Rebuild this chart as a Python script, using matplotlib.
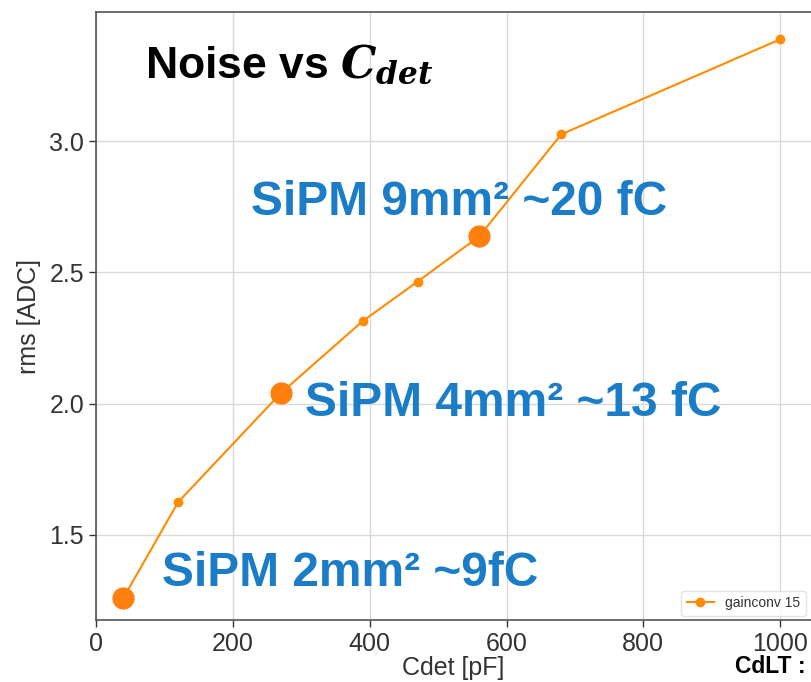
import matplotlib
matplotlib.use("Agg")
import matplotlib.pyplot as plt

plt.rcParams['font.family'] = ['Liberation Sans', 'DejaVu Sans']
plt.rcParams['mathtext.fontset'] = 'custom'
plt.rcParams['mathtext.it'] = 'DejaVu Serif:italic:bold'
plt.rcParams['mathtext.rm'] = 'DejaVu Serif:bold'

# data
cdet = [40, 120, 270, 390, 470, 560, 680, 1000]
rms = [1.26, 1.625, 2.04, 2.315, 2.465, 2.637, 3.026, 3.388]

# highlighted SiPM points
sipm_cdet = [40, 270, 560]
sipm_rms = [1.26, 2.04, 2.637]
sipm_labels = ['SiPM 2mm² ~9fC', 'SiPM 4mm² ~13 fC', 'SiPM 9mm² ~20 fC']
label_xy = [(97, 1.355), (305, 2.0), (226, 2.765)]

xticks = [0, 200, 400, 600, 800, 1000]
yticks = [1.5, 2.0, 2.5, 3.0]

fig = plt.figure(figsize=(8.11, 6.82), dpi=100)
ax = fig.add_axes([0.1184, 0.0909, 0.8816, 0.8915])

ax.plot(cdet, rms, color='#ff8c00', lw=1.5, marker='o', ms=6, label='gainconv 15', zorder=3)
ax.plot(sipm_cdet, sipm_rms, ls='none', marker='o', ms=15, color='#ff7f0e', zorder=4)

blue = '#1b7dc8'
for lab, (tx, ty) in zip(sipm_labels, label_xy):
    ax.text(tx, ty, lab, color=blue, fontsize=34.5, fontweight='bold', va='center', ha='left')

ax.text(0.068, 0.913, r'Noise vs $C_{det}$', transform=ax.transAxes, fontsize=32,
        fontweight='bold', color='black', va='center', ha='left')

ax.set_xlim(0, 1045)
ax.set_ylim(1.176, 3.492)
ax.set_xticks(xticks)
ax.set_yticks(yticks)
ax.grid(True, color='#d9d9d9', lw=1)
ax.set_axisbelow(True)

ax.spines['right'].set_visible(False)
for s in ['left', 'bottom', 'top']:
    ax.spines[s].set_color('#555555')
    ax.spines[s].set_linewidth(1.2)

ax.tick_params(labelsize=18, colors='#333333', length=5, width=1)
ax.set_xlabel('Cdet [pF]', fontsize=18, color='#333333', labelpad=0)
ax.set_ylabel('rms [ADC]', fontsize=18, color='#333333', labelpad=6)

leg = ax.legend(loc='lower right', fontsize=10, frameon=True, edgecolor='#dddddd',
                borderpad=0.4, borderaxespad=0.3, bbox_to_anchor=(0.999, 0.0))
for t in leg.get_texts():
    t.set_color('#333333')

fig.text(0.993, 0.022, 'CdLT :', fontsize=16.5, fontweight='bold', ha='right', va='center')

fig.savefig('out.png', dpi=100)
